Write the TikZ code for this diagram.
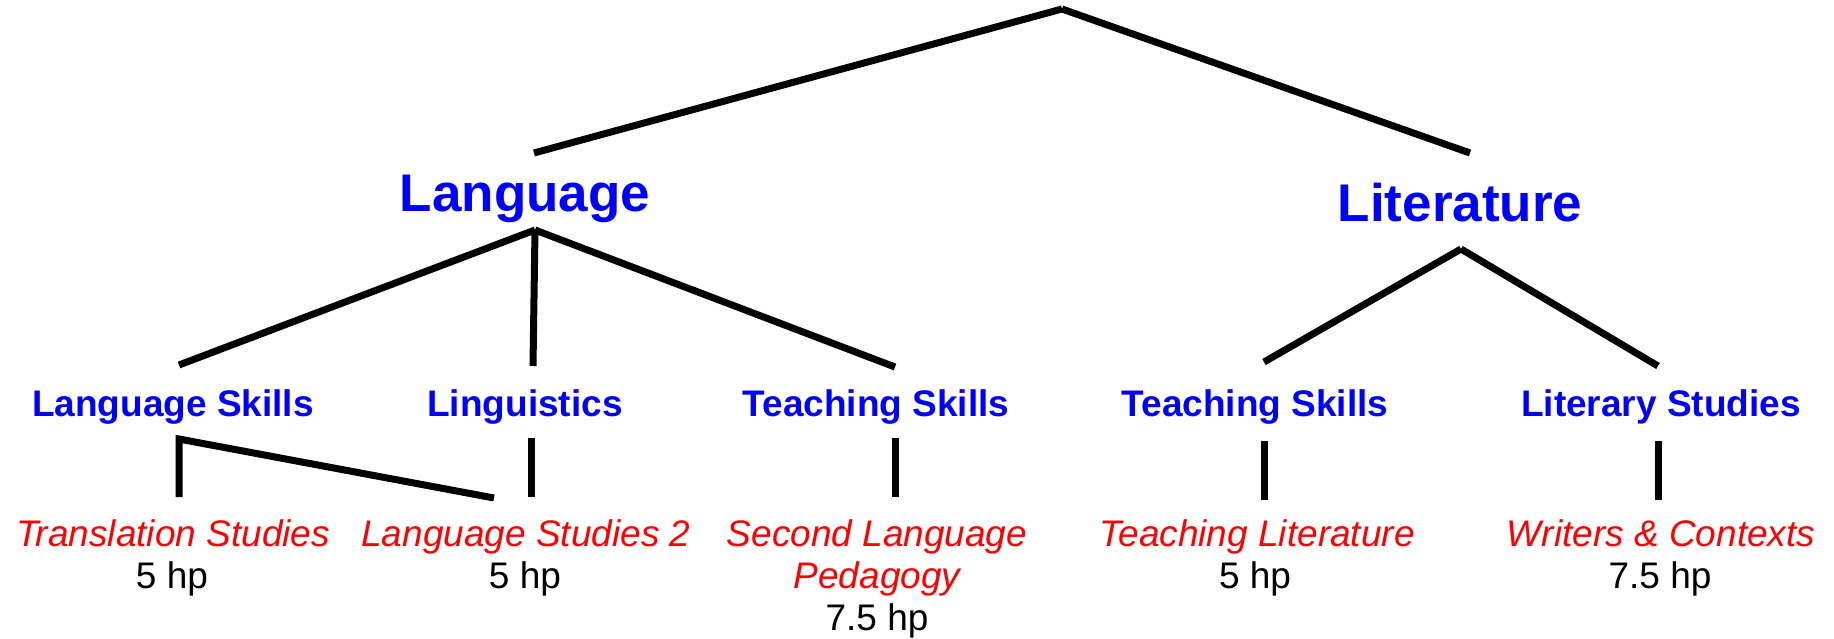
\documentclass[tikz,border=0pt]{standalone}
\usepackage{fontspec}
\setmainfont{Liberation Sans}
\begin{document}
\begin{tikzpicture}[x=1pt,y=-1pt,
  lvlone/.style={anchor=base,inner sep=0pt,text=blue,font=\fontsize{53}{60}\selectfont\bfseries},
  lvltwo/.style={anchor=base,inner sep=0pt,text=blue,font=\fontsize{37}{42}\selectfont\bfseries},
  course/.style={anchor=base,inner sep=0pt,text=red,font=\fontsize{37}{42}\selectfont\itshape},
  credit/.style={anchor=base,inner sep=0pt,text=black,font=\fontsize{37}{42}\selectfont},
  branch/.style={line width=7pt,line cap=butt,line join=miter}]
\useasboundingbox (0,0) rectangle (1834,638);
% texts
\node[lvlone] (lang) at (525,211) {Language};
\node[lvlone] (lit) at (1460,221) {Literature};
\node[lvltwo] (lskills) at (173,416) {Language Skills};
\node[lvltwo] (ling) at (525,416) {Linguistics};
\node[lvltwo] (tskillsA) at (876,416) {Teaching Skills};
\node[lvltwo] (tskillsB) at (1255,416) {Teaching Skills};
\node[lvltwo] (litstud) at (1661,416) {Literary Studies};
\node[course] (trans) at (173,546) {Translation Studies};
\node[credit] (transhp) at (172,588) {5 hp};
\node[course] (ls2) at (526,546) {Language Studies 2};
\node[credit] (ls2hp) at (525,588) {5 hp};
\node[course] (slpA) at (877,546) {Second Language};
\node[course] (slpB) at (877,588) {Pedagogy};
\node[credit] (slphp) at (877,630) {7.5 hp};
\node[course] (tlit) at (1257,546) {Teaching Literature};
\node[credit] (tlithp) at (1255,588) {5 hp};
\node[course] (wc) at (1661,546) {Writers \& Contexts};
\node[credit] (wchp) at (1660,588) {7.5 hp};
% connector points
\coordinate (root) at (1062,9);
\coordinate (langtop) at (534,153);
\coordinate (littop) at (1470,153);
\coordinate (langbot) at (535,230);
\coordinate (litbot) at (1461,249);
\coordinate (lskillstop) at (179,365);
\coordinate (lingtop) at (533,366);
\coordinate (tskillsAtop) at (895,367);
\coordinate (tskillsBtop) at (1264,362);
\coordinate (litstudtop) at (1658,366);
\coordinate (lskillsbot) at (179,439);
\coordinate (transtop) at (179,497);
\coordinate (ls2top) at (494,498);
\coordinate (lingbot) at (531,438);
\coordinate (linghp) at (531,497);
\coordinate (tskillsAbot) at (895,438);
\coordinate (slptop) at (895,497);
\coordinate (tskillsBbot) at (1264,441);
\coordinate (tlittop) at (1264,500);
\coordinate (litstudbot) at (1658,441);
\coordinate (wctop) at (1658,500);
% connectors
\draw[branch] (root) -- (langtop);
\draw[branch] (root) -- (littop);
\draw[branch] (langbot) -- (lskillstop);
\draw[branch] (langbot) -- (lingtop);
\draw[branch] (langbot) -- (tskillsAtop);
\draw[branch] (litbot) -- (tskillsBtop);
\draw[branch] (litbot) -- (litstudtop);
\draw[branch] (transtop) -- (lskillsbot) -- (ls2top);
\draw[branch] (lingbot) -- (linghp);
\draw[branch] (tskillsAbot) -- (slptop);
\draw[branch] (tskillsBbot) -- (tlittop);
\draw[branch] (litstudbot) -- (wctop);
\end{tikzpicture}
\end{document}
